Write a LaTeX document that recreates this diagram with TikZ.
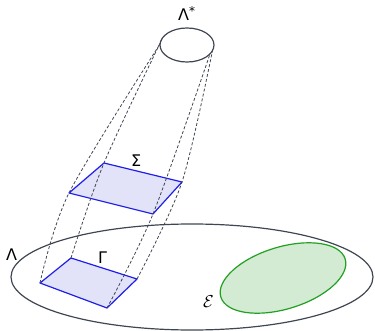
\documentclass[tikz,border=0pt]{standalone}
\usepackage{fontspec}
\newfontfamily\grfont{DejaVu Sans}
\definecolor{edgegray}{HTML}{3F4652}
\definecolor{bluestroke}{HTML}{1F1FEA}
\definecolor{bluefill}{HTML}{E2E2F8}
\definecolor{greenstroke}{HTML}{22A022}
\definecolor{greenfill}{HTML}{D2EBD2}
\tikzset{
  outline/.style={draw=edgegray, line width=1.2pt},
  sheet/.style={draw=bluestroke, fill=bluefill, line width=1.2pt, line join=round},
  region/.style={draw=greenstroke, fill=greenfill, line width=1.2pt},
  fibre/.style={draw=edgegray, line width=0.8pt, dash pattern=on 3pt off 2pt},
  lbl/.style={inner sep=0pt, anchor=base west, font=\grfont\fontsize{16}{19}\selectfont}
}
\begin{document}
\begin{tikzpicture}[x=1pt,y=1pt]
\useasboundingbox (0,0) rectangle (375,330);
% big ellipse Lambda
\draw[outline] (192,53) ellipse [x radius=181, y radius=53];
% green region
\draw[region] (283,52) ellipse [x radius=65, y radius=31, rotate=17];
% Lambda* ellipse
\draw[outline] (187,285) ellipse [x radius=27, y radius=17];
% Gamma
\coordinate (A) at (40,47);
\coordinate (B) at (71,72);
\coordinate (C) at (137,51);
\coordinate (D) at (107,22);
\draw[sheet] (A) -- (B) -- (C) -- (D) -- cycle;
% Sigma
\coordinate (S1) at (69,137);
\coordinate (S2) at (104,167);
\coordinate (S3) at (182,148);
\coordinate (S4) at (153,116);
\draw[sheet] (S1) -- (S2) -- (S3) -- (S4) -- cycle;
% tops
\coordinate (L1) at (160,286);
\coordinate (L2) at (163,293);
\coordinate (R1) at (213,282);
\coordinate (R2) at (210,276);
\draw[fibre] plot[smooth] coordinates {(A) (S1) (L1)};
\draw[fibre] plot[smooth] coordinates {(B) (S2) (L2)};
\draw[fibre] plot[smooth] coordinates {(C) (S3) (R1)};
\draw[fibre] plot[smooth] coordinates {(D) (S4) (R2)};
% labels
\node[lbl] (lstar) at (178,309) {Λ\raisebox{5.5pt}{\fontsize{12}{12}\selectfont *}};
\node[lbl] (lsigma) at (131,164) {Σ};
\node[lbl] (lgamma) at (98,67) {Γ};
\node[lbl] (llambda) at (6,70) {Λ};
\node[lbl, font=\fontsize{18}{20}\selectfont] (leps) at (203,23) {$\mathcal{E}$};
\end{tikzpicture}
\end{document}
